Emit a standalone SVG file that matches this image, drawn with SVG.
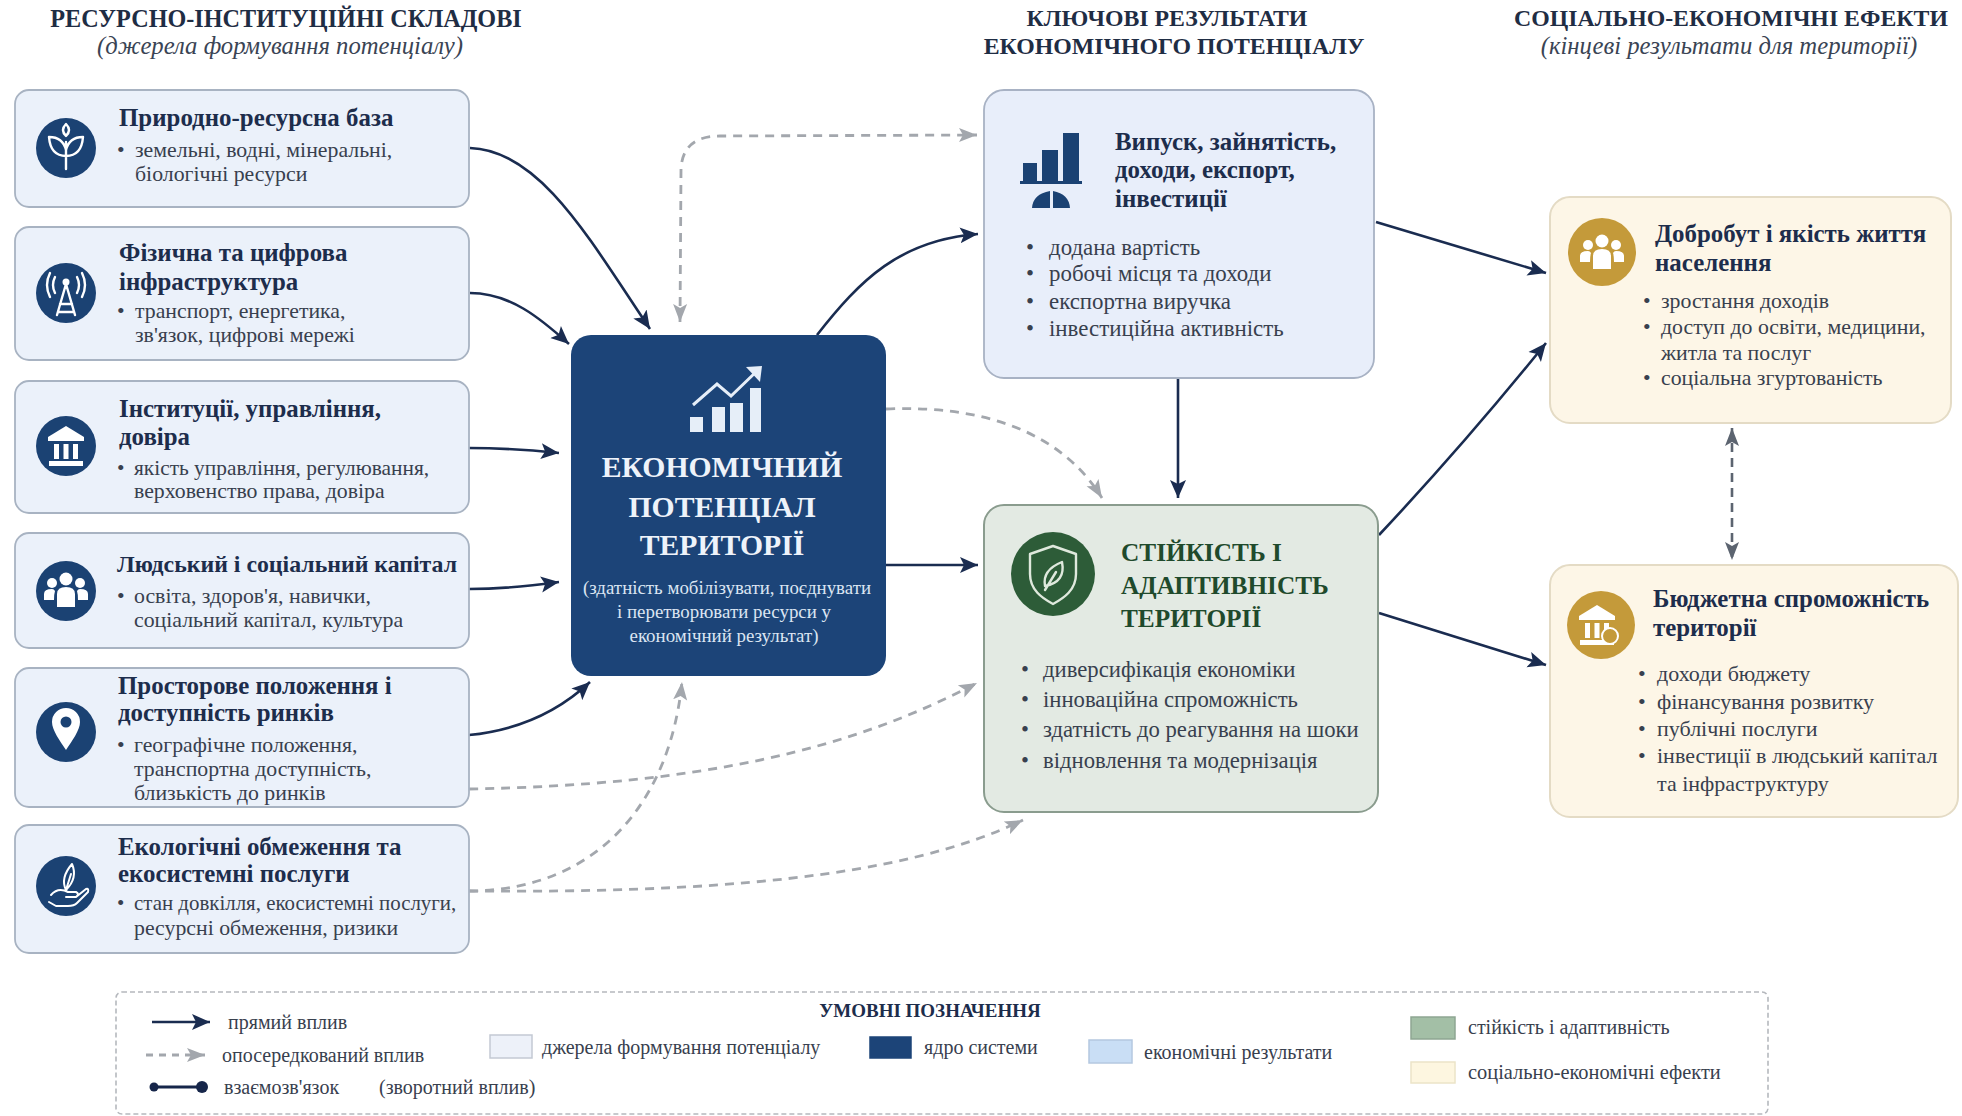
<svg xmlns="http://www.w3.org/2000/svg" xmlns:xlink="http://www.w3.org/1999/xlink" width="1962" height="1116" viewBox="0 0 1962 1116">
<style>
text{font-family:"Liberation Serif","Noto Sans CJK SC",serif}
.h{font-size:23.8px;font-weight:bold;fill:#1f2d44;text-anchor:middle}
.s{font-size:24.7px;font-style:italic;fill:#3a4454;text-anchor:middle}
.t{font-size:24.9px;font-weight:bold;fill:#1d2d4c}
.b{font-size:21.8px;fill:#38404e}
.bm{font-size:22.9px}
.bg{font-size:22.7px}
.bc{font-size:22px}
.src{fill:#ebf1fa;stroke:#a8b3c2;stroke-width:1.8}
.res{fill:#e8eefa;stroke:#a8b2c4;stroke-width:1.8}
.grn{fill:#e3eae3;stroke:#8a9c8e;stroke-width:2}
.crm{fill:#fdf6e7;stroke:#e4dbc5;stroke-width:2}
.ic{fill:#1b4273}
.ln{fill:none;stroke:#fff;stroke-width:2.4;stroke-linecap:round;stroke-linejoin:round}
.d{fill:none;stroke:#1a2c50;stroke-width:2.6}
.g{fill:none;stroke:#a3a7ad;stroke-width:2.8;stroke-dasharray:9 7}
.l{font-size:20px;fill:#38404e}
.sw{stroke-width:1.5}
</style>
<defs>
<marker id="a" markerUnits="userSpaceOnUse" markerWidth="20" markerHeight="18" refX="18" refY="9" orient="auto"><path d="M0 1L18 9L0 17L4 9Z" fill="#1a2c50"/></marker>
<marker id="ag" markerUnits="userSpaceOnUse" markerWidth="20" markerHeight="18" refX="18" refY="9" orient="auto-start-reverse"><path d="M0 2L18 9L0 16L4 9Z" fill="#a3a7ad"/></marker>
<marker id="ad" markerUnits="userSpaceOnUse" markerWidth="20" markerHeight="18" refX="18" refY="9" orient="auto-start-reverse"><path d="M0 2L18 9L0 16L4 9Z" fill="#5c6470"/></marker>
<g id="people"><circle cx="0" cy="-12" r="6.5" fill="#fff"/><circle cx="-14" cy="-8" r="5" fill="#fff"/><circle cx="14" cy="-8" r="5" fill="#fff"/><path d="M-9 16V3Q-9-4 0-4Q9-4 9 3V16Z" fill="#fff"/><path d="M-22 9V3Q-22-2-14-2Q-12-2-11 0Q-12 3-12 9ZM22 9V3Q22-2 14-2Q12-2 11 0Q12 3 12 9Z" fill="#fff"/></g>
<g id="bank"><path d="M0-20L18-9V-5H-18V-9Z" fill="#fff"/><path d="M-12-2H-7V13H-12ZM-2.500-2H2.500V13H-2.500ZM7-2H12V13H7Z" fill="#fff"/><path d="M-17 15H17V20H-17Z" fill="#fff"/></g>
</defs>
<rect width="1962" height="1116" fill="#fff"/>

<g id="headers">
<text class="h" style="font-size:24.2px" x="286" y="27">РЕСУРСНО-ІНСТИТУЦІЙНІ СКЛАДОВІ</text>
<text class="s" x="280" y="54">(джерела формування потенціалу)</text>
<text class="h" x="1167" y="26">КЛЮЧОВІ РЕЗУЛЬТАТИ</text>
<text class="h" x="1174" y="54">ЕКОНОМІЧНОГО ПОТЕНЦІАЛУ</text>
<text class="h" x="1731" y="26">СОЦІАЛЬНО-ЕКОНОМІЧНІ ЕФЕКТИ</text>
<text class="s" x="1729" y="54">(кінцеві результати для території)</text>
</g>

<g id="connectors">
<path class="d" marker-end="url(#a)" d="M470 148C540 150 590 240 650 329"/>
<path class="d" marker-end="url(#a)" d="M470 293C510 293 540 318 569 344"/>
<path class="d" marker-end="url(#a)" d="M469 448C500 448 530 450 559 453"/>
<path class="d" marker-end="url(#a)" d="M469 589C500 589 530 586 559 582"/>
<path class="d" marker-end="url(#a)" d="M469 735C520 730 560 710 590 682"/>
<path class="d" marker-end="url(#a)" d="M817 335C860 280 900 240 978 234"/>
<path class="d" marker-end="url(#a)" d="M886 565H978"/>
<path class="d" marker-end="url(#a)" d="M1178 378V498"/>
<path class="d" marker-end="url(#a)" d="M1376 222L1546 273"/>
<path class="d" marker-end="url(#a)" d="M1379 535C1440 470 1500 400 1546 343"/>
<path class="d" marker-end="url(#a)" d="M1379 613L1546 665"/>
<path class="g" marker-start="url(#ag)" marker-end="url(#ag)" d="M680 322L681 170Q682 136 720 136L977 135"/>
<path class="g" marker-end="url(#ag)" d="M886 409C980 405 1060 430 1102 498"/>
<path class="g" marker-end="url(#ag)" d="M469 789C700 785 850 750 977 683"/>
<path class="g" marker-end="url(#ag)" d="M469 891C600 890 670 800 682 682"/>
<path class="g" marker-end="url(#ag)" d="M469 891C700 893 900 880 1023 820"/>
<path class="d" style="stroke:#5c6470;stroke-dasharray:9 6" marker-start="url(#ad)" marker-end="url(#ad)" d="M1732 428V560"/>
</g>

<g id="node-nature">
<rect class="src" x="15" y="90" width="454" height="117" rx="14"/>
<circle class="ic" cx="66" cy="148" r="30"/>
<path class="ln" d="M66 169V142M66 156C56 156 50 150 49 137C58 137 64 142 66 150M66 156C76 156 82 150 83 137C74 137 68 142 66 150M66 136C62 132 62 128 66 124C70 128 70 132 66 136Z"/>
<text class="t" x="119" y="126">Природно-ресурсна база</text>
<text class="b" x="117" y="157">•<tspan x="135">земельні, водні, мінеральні,</tspan></text>
<text class="b" x="135" y="181">біологічні ресурси</text>
</g>

<g id="node-infra">
<rect class="src" x="15" y="227" width="454" height="133" rx="14"/>
<circle class="ic" cx="66" cy="293" r="30"/>
<path class="ln" d="M66 284L57 315M66 284L75 315M60 304H72M58 312H74M55 277Q51 285 55 293M77 277Q81 285 77 293M50 273Q44 285 50 297M82 273Q88 285 82 297"/><circle cx="66" cy="282" r="3.500" fill="#fff"/>
<text class="t" x="119" y="261">Фізична та цифрова</text>
<text class="t" x="119" y="290">інфраструктура</text>
<text class="b" x="117" y="318">•<tspan x="135">транспорт, енергетика,</tspan></text>
<text class="b" x="135" y="342">зв'язок, цифрові мережі</text>
</g>

<g id="node-inst">
<rect class="src" x="15" y="381" width="454" height="132" rx="14"/>
<circle class="ic" cx="66" cy="446" r="30"/>
<use xlink:href="#bank" href="#bank" x="66" y="446"/>
<text class="t" x="119" y="417">Інституції, управління,</text>
<text class="t" x="119" y="445">довіра</text>
<text class="b" style="font-size:21.4px" x="117" y="475">•<tspan x="134">якість управління, регулювання,</tspan></text>
<text class="b" x="134" y="498">верховенство права, довіра</text>
</g>

<g id="node-human">
<rect class="src" x="15" y="533" width="454" height="115" rx="14"/>
<circle class="ic" cx="66" cy="591" r="30"/>
<use xlink:href="#people" href="#people" x="66" y="591"/>
<text class="t" style="font-size:23.8px" x="117" y="572">Людський і соціальний капітал</text>
<text class="b" x="117" y="603">•<tspan x="134">освіта, здоров'я, навички,</tspan></text>
<text class="b" x="134" y="627">соціальний капітал, культура</text>
</g>

<g id="node-location">
<rect class="src" x="15" y="668" width="454" height="139" rx="14"/>
<circle class="ic" cx="66" cy="732" r="30"/>
<path d="M66 750C60 741 52 730 52 722A14 14 0 0 1 80 722C80 730 72 741 66 750Z" fill="#fff"/><circle cx="66" cy="722" r="5.500" fill="#1b4273"/>
<text class="t" x="118" y="694">Просторове положення і</text>
<text class="t" x="118" y="721">доступність ринків</text>
<text class="b" x="117" y="752">•<tspan x="134">географічне положення,</tspan></text>
<text class="b" x="134" y="776">транспортна доступність,</text>
<text class="b" x="134" y="800">близькість до ринків</text>
</g>

<g id="node-eco">
<rect class="src" x="15" y="825" width="454" height="128" rx="14"/>
<circle class="ic" cx="66" cy="886" r="30"/>
<path class="ln" style="stroke-width:2" d="M51 895Q58 887 68 892H76Q80 894 76 897H66M76 897L86 889Q89 888 88 892L77 903Q74 906 68 906H56L49 902M66 890Q60 878 72 864Q78 878 66 890ZM66 890L71 874"/>
<text class="t" x="118" y="855">Екологічні обмеження та</text>
<text class="t" x="118" y="882">екосистемні послуги</text>
<text class="b" style="font-size:20.9px" x="117" y="910">•<tspan x="134">стан довкілля, екосистемні послуги,</tspan></text>
<text class="b" x="134" y="935">ресурсні обмеження, ризики</text>
</g>

<g id="node-core">
<rect x="571" y="335" width="315" height="341" rx="20" fill="#1c4478"/>
<path d="M690 417h13v15h-13zM712 407h13v25h-13zM730 403h13v29h-13zM750 388h11v44h-11z" fill="#e6eef8"/>
<path d="M693 405L717 384L731 396L758 370" fill="none" stroke="#e6eef8" stroke-width="3"/><path d="M746 367L762 366L760 382Z" fill="#e6eef8"/>
<g text-anchor="middle" fill="#eef3fa" font-size="29.7" font-weight="bold">
<text x="722" y="477">ЕКОНОМІЧНИЙ</text>
<text x="722" y="517">ПОТЕНЦІАЛ</text>
<text x="722" y="555">ТЕРИТОРІЇ</text>
</g>
<g text-anchor="middle" fill="#dbe5f2" font-size="18.900">
<text x="727" y="594">(здатність мобілізувати, поєднувати</text>
<text x="724" y="618">і перетворювати ресурси у</text>
<text x="724" y="642">економічний результат)</text>
</g>
</g>

<g id="node-output">
<rect class="res" x="984" y="90" width="390" height="288" rx="20"/>
<path d="M1023 163h14v21h-14zM1042 150h16v34h-16zM1063 133h16v51h-16z" fill="#1b4273"/><rect x="1020" y="181" width="62" height="3" fill="#1b4273"/>
<path d="M1032 208Q1033 194 1050 191V208ZM1053 191Q1069 194 1070 208H1053Z" fill="#1b4273"/>
<text class="t" x="1115" y="150">Випуск, зайнятість,</text>
<text class="t" x="1115" y="178">доходи, експорт,</text>
<text class="t" x="1115" y="207">інвестиції</text>
<text class="b bm" x="1026" y="255">•<tspan x="1049">додана вартість</tspan></text>
<text class="b bm" x="1026" y="281">•<tspan x="1049">робочі місця та доходи</tspan></text>
<text class="b bm" x="1026" y="309">•<tspan x="1049">експортна виручка</tspan></text>
<text class="b bm" x="1026" y="336">•<tspan x="1049">інвестиційна активність</tspan></text>
</g>

<g id="node-resilience">
<rect class="grn" x="984" y="505" width="394" height="307" rx="20"/>
<circle cx="1053" cy="574" r="42" fill="#2d5c38"/>
<path class="ln" style="stroke:#dfe9dd" d="M1053 546L1076 554V574C1076 590 1064 598 1053 604C1042 598 1030 590 1030 574V554Z"/>
<path class="ln" style="stroke:#dfe9dd" d="M1045 586Q1042 570 1062 562Q1066 582 1045 586ZM1045 590L1056 572"/>
<text x="1121" y="561" font-size="25.300" font-weight="bold" fill="#1f4a2c">СТІЙКІСТЬ І</text>
<text x="1121" y="594" font-size="25.300" font-weight="bold" fill="#1f4a2c">АДАПТИВНІСТЬ</text>
<text x="1121" y="627" font-size="25.300" font-weight="bold" fill="#1f4a2c">ТЕРИТОРІЇ</text>
<text class="b bg" x="1021" y="677">•<tspan x="1043">диверсифікація економіки</tspan></text>
<text class="b bg" x="1021" y="707">•<tspan x="1043">інноваційна спроможність</tspan></text>
<text class="b bg" x="1021" y="737">•<tspan x="1043">здатність до реагування на шоки</tspan></text>
<text class="b bg" x="1021" y="768">•<tspan x="1043">відновлення та модернізація</tspan></text>
</g>

<g id="node-wellbeing">
<rect class="crm" x="1550" y="197" width="401" height="226" rx="20"/>
<circle cx="1602" cy="252" r="34" fill="#c49a3a"/>
<use xlink:href="#people" href="#people" x="1602" y="253"/>
<text class="t" x="1655" y="242">Добробут і якість життя</text>
<text class="t" x="1655" y="271">населення</text>
<text class="b" x="1643" y="308">•<tspan x="1661">зростання доходів</tspan></text>
<text class="b" x="1643" y="334">•<tspan x="1661">доступ до освіти, медицини,</tspan></text>
<text class="b" x="1661" y="360">житла та послуг</text>
<text class="b" x="1643" y="385">•<tspan x="1661">соціальна згуртованість</tspan></text>
</g>

<g id="node-budget">
<rect class="crm" x="1550" y="565" width="408" height="252" rx="20"/>
<circle cx="1601" cy="625" r="34" fill="#c49a3a"/>
<use xlink:href="#bank" href="#bank" x="1597" y="625"/>
<circle cx="1610" cy="636" r="8" fill="#c49a3a" stroke="#fff" stroke-width="2"/>
<text class="t" x="1653" y="607">Бюджетна спроможність</text>
<text class="t" x="1653" y="636">території</text>
<text class="b bc" x="1638" y="681">•<tspan x="1657">доходи бюджету</tspan></text>
<text class="b bc" x="1638" y="709">•<tspan x="1657">фінансування розвитку</tspan></text>
<text class="b bc" x="1638" y="736">•<tspan x="1657">публічні послуги</tspan></text>
<text class="b bc" x="1638" y="763">•<tspan x="1657">інвестиції в людський капітал</tspan></text>
<text class="b bc" x="1657" y="791">та інфраструктуру</text>
</g>

<g id="legend">
<rect x="116" y="992" width="1652" height="122" rx="6" fill="none" stroke="#b5b8bd" stroke-width="1.6" stroke-dasharray="5 3"/>
<text x="930" y="1017" text-anchor="middle" font-size="19" font-weight="bold" fill="#1d2d4c">УМОВНІ ПОЗНАЧЕННЯ</text>
<path class="d" marker-end="url(#a)" d="M152 1022H210"/>
<text class="l" x="228" y="1029">прямий вплив</text>
<path class="g" style="stroke-dasharray:7 6" marker-end="url(#ag)" d="M146 1055H205"/>
<text class="l" x="222" y="1062">опосередкований вплив</text>
<path d="M154 1087H202" stroke="#16264a" stroke-width="3"/><circle cx="154" cy="1087" r="4.500" fill="#16264a"/><circle cx="202" cy="1087" r="6" fill="#16264a"/>
<text class="l" x="224" y="1094">взаємозв'язок</text>
<text class="l" x="379" y="1094">(зворотний вплив)</text>
<rect class="sw" x="490" y="1035" width="42" height="23" fill="#edf1f9" stroke="#c3c9d3"/>
<text class="l" x="542" y="1054">джерела формування потенціалу</text>
<rect class="sw" x="870" y="1037" width="41" height="21" fill="#1c4478" stroke="#1c4478"/>
<text class="l" x="924" y="1054">ядро системи</text>
<rect class="sw" x="1089" y="1040" width="43" height="23" fill="#c9def5" stroke="#b4c8e0"/>
<text class="l" x="1144" y="1059">економічні результати</text>
<rect class="sw" x="1411" y="1017" width="44" height="22" fill="#a3bfa6" stroke="#8ea692"/>
<text class="l" x="1468" y="1034">стійкість і адаптивність</text>
<rect class="sw" x="1411" y="1062" width="44" height="21" fill="#fdf6e0" stroke="#ebe4c8"/>
<text class="l" style="font-size:20.4px" x="1468" y="1079">соціально-економічні ефекти</text>
</g>
</svg>
